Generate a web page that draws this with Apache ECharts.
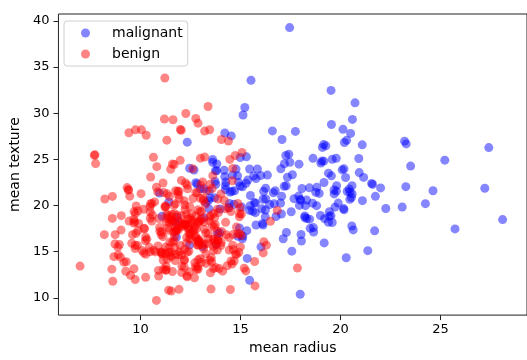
<!DOCTYPE html>
<html>
<head>
<meta charset="utf-8">
<script src="https://cdn.jsdelivr.net/npm/echarts@6/dist/echarts.min.js"></script>
<style>html,body{margin:0;padding:0;background:#fff}#c{width:527px;height:360px}</style>
</head>
<body>
<div id="c"></div>
<script>
const seriesNames = ['malignant', 'benign'];
const xTicks = [10, 15, 20, 25];
const yTicks = [10, 15, 20, 25, 30, 35, 40];

// [mean radius, mean texture]
const malignant = [
[17.99,10.38],[20.57,17.77],[19.69,21.25],[11.42,20.38],[20.29,14.34],[12.45,15.7],[18.25,19.98],[13.71,20.83],
[13.0,21.82],[12.46,24.04],[16.02,23.24],[15.78,17.89],[19.17,24.8],[15.85,23.95],[13.73,22.61],[14.54,27.54],
[14.68,20.13],[16.13,20.68],[19.81,22.15],[15.34,14.26],[21.16,23.04],[16.65,21.38],[17.14,16.4],[14.58,21.53],
[18.61,20.25],[15.3,25.27],[17.57,15.05],[18.63,25.11],[11.84,18.7],[17.02,23.98],[19.27,26.47],[16.13,17.88],
[16.74,21.59],[14.25,21.72],[14.99,25.2],[13.48,20.82],[13.44,21.58],[10.95,21.35],[19.07,24.81],[13.28,20.28],
[13.17,21.81],[18.65,17.6],[13.17,18.66],[18.22,18.7],[15.1,22.02],[19.21,18.57],[14.71,21.59],[14.25,22.15],
[12.68,23.84],[14.78,23.94],[18.94,21.31],[17.2,24.52],[13.8,15.79],[16.07,19.65],[18.05,16.15],[20.18,23.97],
[25.22,24.91],[19.1,26.29],[18.46,18.52],[14.48,21.46],[19.02,24.59],[15.37,22.76],[15.06,19.83],[20.26,23.03],
[14.42,19.77],[13.61,24.98],[13.11,15.56],[22.27,19.67],[14.87,16.67],[15.78,22.91],[17.95,20.01],[18.66,17.12],
[24.25,20.2],[13.61,24.69],[19.0,18.91],[15.1,16.39],[19.79,25.12],[15.46,19.48],[16.16,21.54],[18.45,21.91],
[12.77,22.47],[14.95,17.57],[16.11,18.05],[11.8,16.58],[17.68,20.74],[19.19,15.94],[19.59,18.15],[23.27,22.04],
[16.78,18.8],[17.47,24.68],[13.43,19.63],[15.46,11.89],[16.46,20.11],[27.22,21.87],[21.09,26.57],[15.7,20.31],
[15.28,22.41],[18.31,18.58],[14.22,23.12],[12.34,26.86],[14.86,23.21],[13.77,22.29],[18.08,21.84],[19.18,22.49],
[14.45,20.22],[17.54,19.32],[23.29,26.67],[13.81,23.75],[15.12,16.68],[17.01,20.26],[20.58,22.14],[28.11,18.47],
[17.42,25.56],[14.19,23.81],[13.86,16.93],[19.8,21.56],[19.53,32.47],[15.75,20.25],[12.83,22.33],[17.05,19.08],
[20.51,27.81],[23.21,26.97],[20.48,21.46],[14.22,27.85],[17.46,39.28],[13.75,23.77],[19.4,23.5],[20.94,23.56],
[19.73,19.82],[17.3,17.08],[19.45,19.33],[13.96,17.05],[19.55,28.77],[15.32,17.27],[15.66,23.2],[15.53,33.56],
[20.31,27.06],[17.35,23.06],[17.29,22.13],[15.61,19.38],[17.19,22.07],[20.73,31.12],[21.75,20.99],[17.93,24.48],
[18.81,19.98],[19.16,26.6],[19.4,18.18],[16.24,18.77],[11.76,18.14],[19.53,18.9],[20.09,23.86],[18.22,18.87],
[20.16,19.66],[20.34,21.51],[16.27,20.71],[16.26,21.88],[16.03,15.51],[17.06,21.0],[18.77,21.43],[23.51,24.27],
[19.68,21.68],[15.75,19.22],[25.73,17.46],[20.44,21.78],[20.2,26.83],[21.71,17.25],[22.01,21.9],[16.35,23.29],
[21.37,15.1],[20.64,17.35],[11.08,18.83],[14.6,23.29],[19.55,23.21],[15.49,19.97],[21.61,22.28],[17.91,21.02],
[17.99,20.66],[14.99,22.11],[15.13,29.81],[15.5,21.08],[14.9,22.53],[20.18,19.54],[18.82,21.97],[13.98,19.62],
[17.27,25.42],[18.03,16.85],[17.75,28.03],[21.1,20.52],[19.59,25.0],[17.08,27.15],[27.42,26.27],[17.6,23.33],
[16.25,19.51],[19.44,18.82],[16.69,20.2],[18.01,20.56],[18.49,17.52],[20.59,21.24],[13.82,24.49],[23.09,19.83],
[15.46,23.95],[13.4,20.52],[18.31,20.58],[19.89,20.26],[24.63,21.6],[20.47,20.67],[20.55,20.86],[14.27,22.55],
[15.22,30.62],[20.92,25.09],[21.56,22.39],[20.13,28.25],[16.6,28.08],[20.6,29.33]
];

const benign = [
[13.54,14.36],[13.08,15.71],[9.504,12.44],[13.03,18.42],[8.196,16.84],[12.05,14.63],[13.49,22.3],[11.76,21.6],
[13.64,16.34],[11.94,18.24],[11.52,18.75],[13.05,19.31],[8.618,11.79],[10.17,14.88],[8.598,20.98],[9.173,13.86],
[9.465,21.01],[11.31,19.04],[9.029,17.33],[12.78,16.49],[8.888,14.64],[12.31,16.52],[13.53,10.94],[12.86,18.0],
[11.45,20.97],[13.34,15.86],[12.0,15.65],[12.36,21.8],[14.64,15.24],[14.62,24.02],[13.27,14.76],[13.45,18.3],
[12.18,17.84],[9.787,19.94],[11.6,12.84],[6.981,13.43],[12.18,20.52],[9.876,19.4],[10.49,19.29],[11.64,18.33],
[12.36,18.54],[11.34,21.26],[9.777,16.99],[12.63,20.76],[14.26,19.65],[10.51,20.19],[8.726,15.83],[11.93,21.53],
[8.95,15.76],[11.41,10.82],[14.5,10.89],[13.37,16.39],[13.85,17.21],[12.19,13.29],[15.71,13.93],[11.71,16.67],
[11.43,15.39],[11.28,13.39],[9.738,11.97],[11.43,17.31],[12.9,15.92],[10.75,14.97],[11.9,14.65],[14.95,18.77],
[14.44,15.18],[13.74,17.91],[13.0,20.78],[8.219,20.7],[9.731,15.34],[11.15,13.08],[13.15,15.34],[12.25,17.94],
[16.84,19.46],[12.06,12.74],[10.9,12.96],[11.75,20.18],[12.34,22.22],[14.97,19.76],[10.8,9.71],[14.97,16.95],
[12.32,12.39],[11.08,14.71],[10.66,15.15],[8.671,14.45],[9.904,18.06],[13.01,22.22],[12.81,13.06],[11.41,14.92],
[10.08,15.11],[11.71,17.19],[11.81,17.39],[12.3,15.9],[12.77,21.41],[9.72,18.22],[12.91,16.33],[12.23,19.56],
[12.47,18.6],[9.876,17.27],[13.11,22.54],[15.27,12.91],[11.84,18.94],[11.89,18.35],[10.2,17.48],[13.65,13.16],
[13.56,13.9],[10.18,17.53],[13.27,17.02],[14.34,13.47],[10.44,15.46],[15.0,15.51],[12.62,23.97],[11.32,27.08],
[11.22,33.81],[9.567,15.91],[14.03,21.25],[13.64,15.6],[12.42,15.04],[11.3,18.19],[10.48,19.86],[13.2,17.43],
[12.89,14.11],[10.65,25.22],[11.52,14.93],[11.5,18.45],[10.6,18.95],[13.59,21.84],[12.87,16.21],[10.71,20.39],
[14.29,16.82],[11.29,13.04],[9.742,15.67],[11.89,17.36],[11.33,14.16],[13.59,17.84],[13.85,15.18],[11.74,14.02],
[12.89,15.7],[12.58,18.4],[11.94,20.76],[12.89,13.12],[11.26,19.96],[11.37,18.89],[14.41,19.73],[14.96,19.1],
[12.95,16.02],[11.85,17.46],[12.72,13.78],[13.77,13.27],[10.91,12.35],[14.26,18.17],[10.51,23.09],[12.46,19.89],
[10.49,18.61],[11.46,18.16],[11.6,24.49],[13.2,15.82],[9.0,14.4],[13.5,12.71],[13.05,13.84],[11.7,19.11],
[14.61,15.69],[12.76,13.37],[11.54,10.72],[8.597,18.6],[12.49,16.85],[12.18,14.08],[9.042,18.9],[12.43,17.0],
[10.25,16.18],[12.86,13.32],[12.2,15.21],[12.67,17.3],[14.11,12.88],[12.03,17.93],[12.98,19.35],[11.22,19.86],
[11.25,14.78],[12.3,19.02],[12.99,14.23],[10.05,28.2],[14.42,16.54],[9.606,16.84],[11.06,14.96],[11.71,15.45],
[10.26,14.71],[12.06,18.9],[14.76,14.74],[11.47,16.03],[11.95,14.96],[11.66,17.07],[15.08,25.74],[11.14,14.07],
[12.56,19.07],[13.05,18.59],[13.87,16.21],[8.878,15.49],[9.436,18.32],[12.54,18.07],[13.3,21.57],[12.76,18.84],
[16.5,18.29],[13.4,16.95],[12.21,18.02],[15.19,13.21],[13.69,16.07],[16.17,16.07],[10.57,20.22],[13.46,28.21],
[13.66,15.15],[11.27,12.96],[11.04,14.93],[12.05,22.72],[12.39,17.48],[13.28,13.72],[12.21,14.09],[13.88,16.16],
[11.27,15.5],[10.26,12.22],[8.734,16.84],[12.1,17.72],[14.06,17.18],[13.51,18.89],[12.8,17.46],[11.06,14.83],
[11.8,17.26],[11.93,10.91],[12.96,18.29],[12.94,16.17],[12.34,14.95],[10.94,18.59],[16.14,14.86],[12.85,21.37],
[12.27,17.92],[11.36,17.57],[11.04,16.83],[9.397,21.68],[11.89,21.17],[9.405,21.7],[12.7,12.17],[11.16,21.41],
[11.57,19.04],[14.69,13.98],[11.61,16.02],[13.66,19.13],[9.742,19.12],[10.03,21.28],[10.48,14.98],[10.8,21.98],
[11.13,16.62],[12.72,17.67],[12.4,17.68],[14.86,16.94],[12.87,19.54],[14.04,15.98],[13.85,19.6],[14.02,15.66],
[10.97,17.2],[13.78,15.79],[10.57,18.32],[11.99,24.89],[14.8,17.66],[14.53,19.34],[11.87,21.54],[12.0,28.23],
[14.53,13.98],[12.62,17.15],[13.38,30.72],[11.63,29.29],[13.21,25.25],[13.0,25.13],[9.755,28.2],[14.4,26.99],
[11.6,18.36],[13.17,18.22],[13.24,20.13],[13.14,20.74],[9.668,18.1],[11.62,18.18],[9.667,18.49],[12.04,28.14],
[14.92,14.93],[12.27,29.97],[10.88,15.62],[12.83,15.73],[14.2,20.53],[13.9,16.62],[11.49,14.59],[12.16,18.03],
[13.9,19.24],[13.47,14.06],[13.7,17.64],[15.73,11.28],[12.45,16.41],[14.64,16.85],[11.68,16.17],[12.25,22.44],
[17.85,13.23],[12.46,12.83],[13.16,20.54],[14.87,20.21],[12.65,18.17],[12.47,17.31],[15.04,16.74],[12.54,16.32],
[9.268,12.87],[9.676,13.14],[12.22,20.04],[11.06,17.12],[16.3,15.7],[11.74,14.69],[14.81,14.7],[14.58,13.66],
[15.05,19.07],[11.34,18.61],[12.88,18.22],[12.75,16.7],[9.295,13.9],[11.26,19.83],[13.71,18.68],[9.847,15.68],
[8.571,13.1],[13.46,18.75],[12.34,12.27],[13.94,13.17],[12.07,13.44],[11.75,17.56],[11.67,20.02],[13.68,16.33],
[10.96,17.62],[11.69,24.44],[7.729,25.49],[7.691,25.44],[11.54,14.44],[14.47,24.99],[14.74,25.42],[13.21,28.06],
[13.87,20.7],[13.62,23.23],[10.32,16.35],[10.26,16.58],[9.683,19.34],[10.82,24.21],[10.86,21.48],[11.13,22.44],
[12.77,29.43],[9.333,21.94],[12.88,28.92],[10.29,27.61],[10.16,19.59],[9.423,27.88],[14.59,22.68],[11.51,23.93],
[14.05,27.15],[11.2,29.37],[7.76,24.54]
];

const FONT = 'DejaVu Sans';
const chart = echarts.init(document.getElementById('c'), null, {renderer: 'canvas'});
chart.setOption({
  animation: false,
  backgroundColor: '#fff',
  textStyle: {fontFamily: FONT},
  grid: {left: 58, right: -1, top: 14, bottom: 41, show: true, borderColor: '#222', borderWidth: 1, backgroundColor: 'transparent'},
  legend: {
    orient: 'vertical', left: 64, top: 21,
    data: seriesNames,
    icon: 'circle', itemWidth: 9, itemHeight: 9, itemGap: 7, itemTextGap: 8,
    padding: [5, 5, 5, 17],
    borderColor: '#d0d0d0', borderWidth: 1, borderRadius: 3,
    backgroundColor: 'rgba(255,255,255,0.8)',
    textStyle: {fontFamily: FONT, fontSize: 14, color: '#000', lineHeight: 14, padding: [0, 0, 0, 17]}
  },
  xAxis: {
    type: 'value', min: 5.9, max: 29.33,
    name: 'mean radius', nameLocation: 'middle', nameGap: 25,
    nameTextStyle: {fontFamily: FONT, fontSize: 14, color: '#000'},
    axisLine: {show: false},
    splitLine: {show: false},
    axisTick: {show: true, length: 5, lineStyle: {color: '#222'}, customValues: xTicks},
    axisLabel: {fontFamily: FONT, fontSize: 13, color: '#000', margin: 8, customValues: xTicks}
  },
  yAxis: {
    type: 'value', min: 8.12, max: 40.75,
    name: 'mean texture', nameLocation: 'middle', nameGap: 31,
    nameTextStyle: {fontFamily: FONT, fontSize: 14, color: '#000'},
    axisLine: {show: false},
    splitLine: {show: false},
    axisTick: {show: true, length: 5, lineStyle: {color: '#222'}, customValues: yTicks},
    axisLabel: {fontFamily: FONT, fontSize: 13, color: '#000', margin: 9, customValues: yTicks}
  },
  series: [
    {name: seriesNames[0], type: 'scatter', data: malignant, symbolSize: 9,
     itemStyle: {color: 'rgba(0,0,255,0.6)'}, emphasis: {disabled: true}},
    {name: seriesNames[1], type: 'scatter', data: benign, symbolSize: 9,
     itemStyle: {color: 'rgba(255,0,0,0.6)'}, emphasis: {disabled: true}}
  ]
});
</script>
</body>
</html>
